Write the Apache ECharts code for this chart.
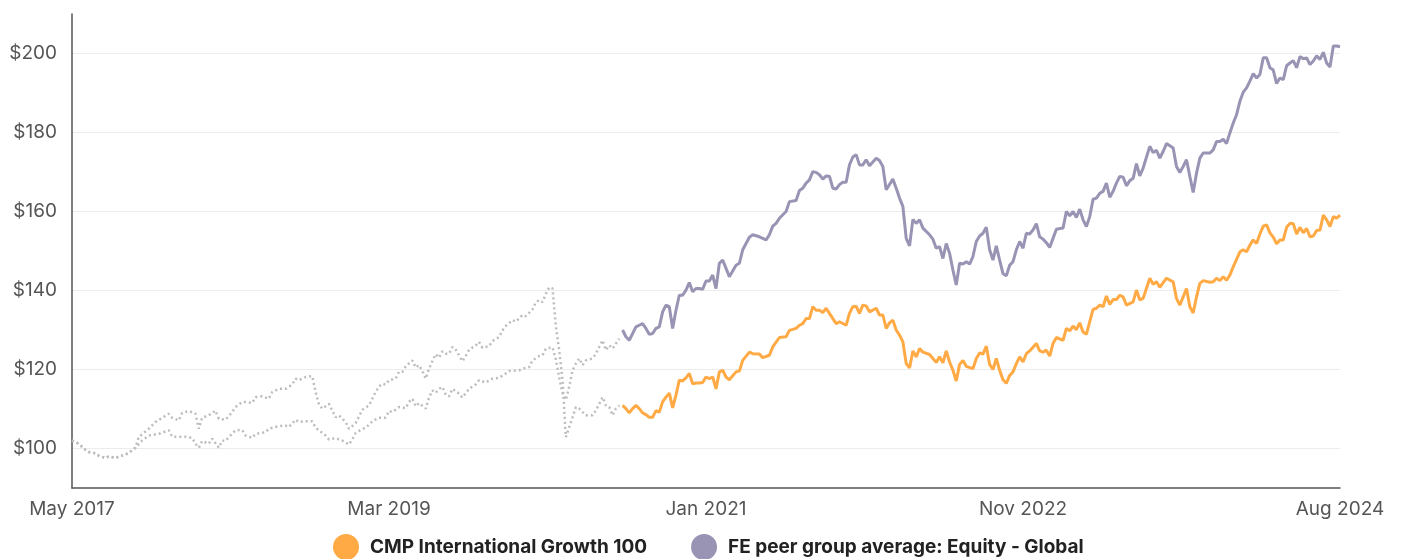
<!DOCTYPE html>
<html>
<head>
<meta charset="utf-8">
<script src="https://cdn.jsdelivr.net/npm/echarts@6/dist/echarts.min.js"></script>
<style>
html,body{margin:0;padding:0;background:#fff;}
#chart{width:1401px;height:559px;}
</style>
</head>
<body>
<div id="chart"></div>
<script>
// ---- DATA (x = week index since start, May 2017) ----
const xTickWeeks = [0, 95, 190, 285, 380];
const xTickLabels = ['May 2017', 'Mar 2019', 'Jan 2021', 'Nov 2022', 'Aug 2024'];
const yTicks = [100, 120, 140, 160, 180, 200];

const fundName = 'CMP International Growth 100';
const peerName = 'FE peer group average: Equity - Global';

const sharedStart = [[0,102.0],[2,101.2],[4,99.7],[5,99.1],[7,98.8],[8,98.2],[10,97.6],[11,98.0],[13,97.6],[15,98.2],[16,98.4],[18,99.5],[19,100.2]];

// grey history line that runs higher before 2020 and ends in the deeper crash
const historyA = [[20,102.9],[23,105],[25,106.7],[29,108.8],[30,107.8],[32,107.1],[33,109],[35,109.5],[37,108.8],[38,105],[39,107.8],[41,108.4],[43,109.6],[44,107.5],[46,107.3],[48,109.2],[49,110.5],[51,111.8],[52,111.8],[54,111.5],[55,113],[57,113.2],[59,112.6],[60,114.3],[62,115.1],[64,115.1],[66,116.2],[67,117.7],[68,117.3],[70,118.1],[72,118.3],[73,114.3],[74,111.2],[75,110.1],[77,111.3],[78,109.6],[79,107.9],[80,108.4],[82,106.7],[83,105],[85,106.4],[86,108.1],[87,109.8],[89,110.9],[90,112.6],[91,114.3],[92,115.7],[93,116.4],[94,116.2],[95,117.3],[97,117.7],[98,119.4],[99,119.4],[100,120.8],[102,122.3],[103,120.5],[104,121.1],[105,119.6],[106,117.7],[107,120.2],[108,122.1],[109,123.9],[110,123],[111,124.6],[112,124],[113,124],[114,125.7],[115,125],[116,123.6],[117,122.1],[118,123.4],[119,125],[121,126.1],[122,127],[123,125.5],[125,125.9],[126,127.2],[128,128.2],[129,129.9],[130,131],[132,132.5],[133,132.1],[135,133.8],[136,133.5],[138,135.2],[139,137],[140,137.6],[141,137.1],[142,139.1],[143,140.8],[144,140.5],[145,131],[146,124.9],[147,117.3],[148,102.9],[149,105.4],[150,107.9],[151,110.5],[152,110.1],[154,108.4],[156,108.4],[157,109.6],[158,111.3],[159,113],[160,110.9],[161,110.5],[162,108.4],[163,110.1],[164,110.9]];

// grey history line that runs lower before 2020 and ends higher
const historyB = [[21,102],[23,103.3],[26,103.7],[29,104.6],[30,103],[34,103],[36,102.7],[37,101.2],[38,100.2],[39,101.9],[41,101.2],[42,102.5],[44,100.2],[45,102],[46,101.9],[47,102.9],[49,104.6],[51,104.7],[52,103.3],[54,102.7],[55,103.7],[58,104.1],[59,105],[62,105.7],[64,105.8],[65,105.4],[67,107.3],[68,106.7],[70,106.9],[72,106.9],[73,105.3],[74,104.6],[76,103.3],[77,102.3],[79,102.6],[81,102],[83,101],[84,102.3],[85,103.9],[87,105],[88,105.2],[90,106.9],[92,107.8],[94,107.8],[95,109.5],[96,109.2],[98,110.5],[100,110.2],[101,111.8],[102,112.6],[103,110.7],[104,111.5],[106,110.1],[107,112.9],[108,114.7],[109,114.1],[110,115.1],[111,115.6],[112,113.7],[113,113.2],[114,115.1],[116,113.9],[117,112.9],[118,114],[119,115.1],[121,116.2],[122,117.3],[124,116.7],[126,117.7],[128,117.9],[130,119],[131,119.6],[134,119.8],[135,120.2],[137,120.6],[138,122.3],[140,123.4],[141,123.6],[142,125.3],[144,125.6],[145,122.5],[146,118],[147,114],[148,112.3],[149,115.6],[150,119.8],[151,121.5],[152,122.8],[153,121.1],[154,122.3],[156,122.8],[157,124],[158,125.7],[159,127.4],[160,124.9],[161,126.1],[162,125.3],[163,126.6],[164,127.8]];

const peerValues = [[165,130],[166,128.3],[167,127.4],[168,129.1],[169,130.8],[170,131.2],[171,131.6],[172,130.4],[173,128.9],[174,129.1],[175,130.4],[176,130.8],[177,134.6],[178,136.3],[179,135.9],[180,130.4],[181,135],[182,138.8],[183,138.8],[184,140.1],[185,142],[186,139.7],[187,140.5],[188,140.5],[189,140.3],[190,142.4],[191,142.4],[192,143.9],[193,140.5],[194,146.9],[195,147.7],[197,143.5],[199,146.4],[200,146.9],[201,150.3],[203,153.5],[204,154.1],[206,153.6],[208,152.8],[209,154.1],[210,156.3],[211,157],[212,158.3],[214,160],[215,162.5],[217,162.8],[218,165.3],[219,165.9],[220,167.2],[221,168],[222,170.1],[223,169.9],[224,169.3],[225,168.2],[226,169],[227,168.9],[228,165.9],[229,165.7],[230,166.8],[231,167.4],[232,167.4],[233,171.8],[234,173.8],[235,174.4],[236,171.8],[237,171.8],[238,173.1],[239,171.6],[241,173.5],[242,172.9],[243,171.4],[244,165.5],[246,168.2],[247,165.9],[248,163.4],[249,161.3],[250,153.2],[251,151.3],[252,158],[253,157],[254,157.9],[255,155.8],[257,154.1],[258,153],[259,150.7],[260,151.1],[261,148.1],[262,151.9],[263,149.4],[264,145.2],[265,141.4],[266,146.9],[267,146.7],[268,147.3],[269,146.7],[270,148.6],[271,152.4],[272,153.8],[273,154.5],[274,156],[275,150.3],[276,147.7],[277,151.3],[278,147.7],[279,144.3],[280,143.7],[281,146.4],[282,147.3],[283,150.3],[284,152.4],[285,150.7],[286,154.5],[287,154.3],[288,155.3],[289,156.9],[290,153.6],[291,153],[292,152.1],[293,150.9],[294,153.2],[295,155.5],[297,155.8],[298,160],[299,158.9],[300,160],[301,158.5],[302,160.6],[303,157.9],[304,156.2],[305,158.7],[306,163.1],[307,163.4],[308,164.6],[309,165.1],[310,167.2],[311,163.6],[312,165.1],[313,167.2],[314,168.9],[315,168.7],[316,166.5],[317,167.8],[318,168.4],[319,172.1],[320,169],[321,171],[323,176.5],[324,174.9],[325,175.5],[326,173.5],[327,175.2],[328,177.2],[330,176.1],[331,171.4],[332,169.9],[333,171.4],[334,173.1],[335,168.9],[336,164.8],[337,169.7],[338,173.5],[339,174.8],[341,174.8],[342,175.6],[343,177.7],[344,177.7],[345,178.3],[346,177.2],[347,179.9],[348,182.4],[349,184.5],[350,187.9],[351,190.2],[352,191.3],[353,193],[354,194.9],[355,193.8],[356,194.7],[357,198.9],[358,198.9],[359,196.4],[360,195.8],[361,192.4],[362,193.8],[363,193.4],[364,196.9],[365,197.6],[366,198.2],[367,196.4],[368,199.2],[369,198.7],[370,198.9],[371,197.2],[372,198.1],[373,199.4],[374,198.5],[375,200.3],[376,197.6],[377,196.6],[378,201.9],[379,201.9],[380,201.7]];

const fundValues = [[165,110.9],[166,110.1],[167,109],[168,110.1],[169,110.9],[170,110.1],[171,109],[172,108.6],[173,107.9],[174,107.9],[175,109.6],[176,109.2],[177,111.8],[178,113],[179,114],[180,110.3],[181,113.5],[182,117.3],[183,117.1],[184,117.9],[185,119],[186,116.4],[187,116.6],[188,116.6],[189,116.7],[190,118.1],[191,117.7],[192,118.1],[193,115.1],[194,119.4],[195,119.8],[196,118.1],[197,117.4],[199,119.4],[200,119.6],[201,122.3],[203,124.4],[204,124],[206,123.9],[207,123],[209,123.6],[210,125.7],[212,128.1],[214,128.3],[215,129.9],[217,130.4],[218,131.2],[219,131.6],[220,132.9],[221,132.9],[222,135.9],[223,135],[224,135],[225,134.4],[226,135.5],[227,134.2],[229,131.6],[230,132.1],[232,131.2],[233,134.2],[234,135.9],[235,136],[236,134.2],[237,136.3],[238,136.1],[239,134.6],[241,135.5],[242,133.8],[243,133.8],[244,130.4],[245,131.8],[246,132.5],[247,130],[248,128.7],[249,127],[250,121.5],[251,120.4],[252,124.7],[253,123.2],[254,125.3],[255,124.4],[257,123.8],[258,122.8],[259,121.8],[260,123.2],[261,121.7],[262,124.7],[263,121.9],[264,119.8],[265,117.1],[266,121.3],[267,122.3],[268,120.8],[270,120.2],[271,122.8],[272,124.2],[273,123.9],[274,125.9],[275,121.3],[276,120],[277,122.8],[278,119.8],[279,117.4],[280,116.5],[281,118.5],[282,119.4],[283,121.5],[284,123.2],[285,121.9],[286,124],[287,124.7],[289,126.6],[290,124.7],[291,124.4],[292,124.9],[293,123.4],[294,126.6],[295,128.1],[297,127.4],[298,130.4],[299,129.8],[300,131],[301,130.1],[302,131.8],[303,129.5],[304,128.9],[305,132.1],[306,135.2],[307,135.5],[308,136.3],[309,135.9],[310,138.6],[311,136.5],[312,137.7],[313,137.7],[314,138.8],[315,138.4],[316,136.3],[318,137.1],[319,140.1],[320,137.6],[321,138],[323,143.1],[324,141.6],[325,142.2],[326,140.8],[327,142],[328,143.1],[330,142.2],[331,138],[332,136.3],[333,138.4],[334,140.5],[335,135.9],[336,134.3],[337,138.4],[338,141.8],[339,142.5],[341,142.1],[342,142.2],[343,143.1],[344,142.5],[345,143.5],[346,142.6],[347,143.9],[348,146],[349,147.9],[350,149.8],[351,150.3],[352,149.8],[353,151.5],[354,152.8],[355,151.9],[356,154.3],[357,156.3],[358,156.6],[359,154.6],[360,153.5],[361,151.8],[362,152.8],[363,152.8],[364,156],[365,157],[366,156.9],[367,154.3],[368,156],[369,154.6],[370,155.7],[371,153.6],[372,153.8],[373,155.2],[374,155.3],[375,159.1],[376,157.9],[377,156.2],[378,158.7],[379,158.3],[380,159.1]];

// ---- CHART ----
const FONT = 'Inter, "Noto Sans", sans-serif';
const chart = echarts.init(document.getElementById('chart'), null, {renderer: 'canvas'});

const greyStyle = {color: '#bcbcbc', width: 2.5, type: [2, 3]};

chart.setOption({
  animation: false,
  backgroundColor: '#ffffff',
  grid: {left: 72, right: 61, top: 14, bottom: 71, containLabel: false},
  legend: {
    data: [fundName, peerName],
    top: 534,
    left: 333,
    padding: 0,
    icon: 'circle',
    itemWidth: 26,
    itemHeight: 26,
    itemGap: 44,
    textStyle: {fontFamily: FONT, fontSize: 19, fontWeight: 'bold', color: '#222', padding: [0, 0, 0, 6]}
  },
  xAxis: {
    type: 'value',
    min: 0,
    max: 380,
    axisLine: {show: true, lineStyle: {color: '#555', width: 1.5}},
    axisTick: {show: false},
    splitLine: {show: false},
    axisLabel: {
      customValues: xTickWeeks,
      showMinLabel: true,
      showMaxLabel: true,
      margin: 12,
      fontFamily: FONT,
      fontSize: 19,
      color: '#555',
      formatter: function (v) {
        const i = xTickWeeks.indexOf(v);
        return i >= 0 ? xTickLabels[i] : '';
      }
    }
  },
  yAxis: {
    type: 'value',
    min: 90,
    max: 210,
    axisLine: {show: true, lineStyle: {color: '#555', width: 1.5}},
    axisTick: {show: false, customValues: yTicks},
    splitLine: {show: true, lineStyle: {color: '#ececec', width: 1}},
    axisLabel: {
      customValues: yTicks,
      margin: 15,
      fontFamily: FONT,
      fontSize: 19,
      color: '#555',
      formatter: function (v) { return '$' + v; }
    }
  },
  series: [
    {name: 'historyA', type: 'line', data: sharedStart.concat(historyA), showSymbol: false, symbol: 'none', lineStyle: greyStyle, itemStyle: {color: '#bcbcbc'}, z: 1, silent: true},
    {name: 'historyB', type: 'line', data: sharedStart.concat(historyB), showSymbol: false, symbol: 'none', lineStyle: greyStyle, itemStyle: {color: '#bcbcbc'}, z: 1, silent: true},
    {name: fundName, type: 'line', data: fundValues, showSymbol: false, symbol: 'none', lineStyle: {color: '#FFAA45', width: 3}, itemStyle: {color: '#FFAA45'}, z: 3},
    {name: peerName, type: 'line', data: peerValues, showSymbol: false, symbol: 'none', lineStyle: {color: '#9993B4', width: 3}, itemStyle: {color: '#9993B4'}, z: 2}
  ]
});
</script>
</body>
</html>
